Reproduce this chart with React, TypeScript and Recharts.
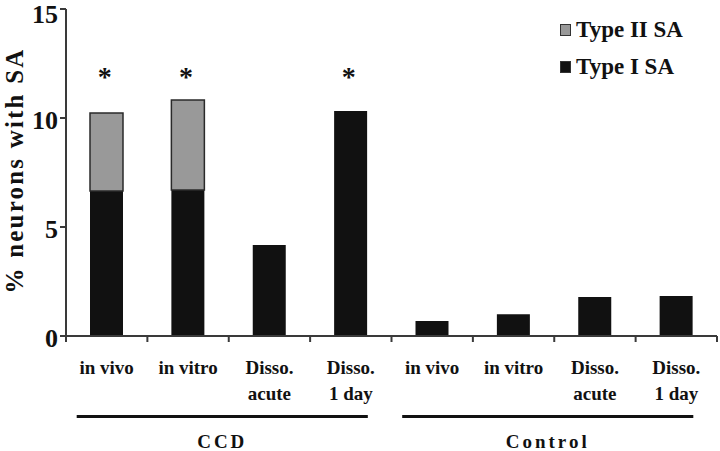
import React from "react";
import { ComposedChart, Bar, Line, XAxis, YAxis } from "recharts";

const line1 = ["in vivo", "in vitro", "Disso.", "Disso.", "in vivo", "in vitro", "Disso.", "Disso."];
const line2 = ["", "", "acute", "1 day", "", "", "acute", "1 day"];
const groupNames = ["CCD", "Control"];
const typeI = [6.65, 6.7, 4.17, 10.32, 0.69, 1.0, 1.79, 1.83];
const typeII = [3.58, 4.13, 0, 0, 0, 0, 0, 0];
const significant = [true, true, false, true, false, false, false, false];
const yTicks = [0, 5, 10, 15];
const legendItems = [
  { label: "Type II SA", fill: "#999999" },
  { label: "Type I SA", fill: "#111111" },
];

const STAR_LEVEL = 12.1;
const FONT = '"Liberation Serif", "Times New Roman", serif';
const AXIS = "#3a3a3a";

const data = line1.map((l, i) => ({
  name: `${l} ${line2[i]} ${i}`,
  typeI: typeI[i],
  typeII: typeII[i] || null,
  star: significant[i] ? STAR_LEVEL : null,
}));

const W = 720;
const H = 451;
const LEFT = 66;
const RIGHT = 3;
const step = (W - LEFT - RIGHT) / line1.length;

function XTick(props: any) {
  const { x, y, index } = props;
  const half = step / 2;
  const items: React.ReactNode[] = [];
  items.push(<line key="t" x1={x - half} x2={x - half} y1={y - 8} y2={y - 2} stroke={AXIS} strokeWidth={2} />);
  if (index === line1.length - 1) {
    items.push(<line key="t2" x1={x + half} x2={x + half} y1={y - 8} y2={y - 2} stroke={AXIS} strokeWidth={2} />);
  }
  items.push(
    <text key="l1" x={x} y={y + 30} textAnchor="middle" fontFamily={FONT} fontWeight="bold" fontSize={19} fill="#111">
      {line1[index]}
    </text>
  );
  if (line2[index]) {
    items.push(
      <text key="l2" x={x} y={y + 56} textAnchor="middle" fontFamily={FONT} fontWeight="bold" fontSize={19} fill="#111">
        {line2[index]}
      </text>
    );
  }
  if (index % 4 === 0) {
    const x1 = x - 30;
    const x2 = x + 3 * step + 17;
    items.push(<line key="g" x1={x1} x2={x2} y1={y + 72.5} y2={y + 72.5} stroke="#111" strokeWidth={3} />);
    items.push(
      <text key="gl" x={(x1 + x2) / 2} y={y + 104} textAnchor="middle" fontFamily={FONT} fontWeight="bold" fontSize={19} letterSpacing={3} fill="#111">
        {groupNames[index / 4]}
      </text>
    );
  }
  return <g>{items}</g>;
}

function YTick(props: any) {
  const { x, y, payload } = props;
  const shift = payload.value === 15 ? 5 : 2;
  return (
    <text x={x} y={y + shift} dy="0.35em" textAnchor="end" fontFamily={FONT} fontWeight="bold" fontSize={26} fill="#111">
      {payload.value}
    </text>
  );
}

function StarDot(props: any) {
  const { cx, cy, value } = props;
  if (value == null || cx == null || cy == null) return null;
  return (
    <text x={cx - 2} y={cy + 14} textAnchor="middle" fontFamily={FONT} fontWeight="bold" fontSize={28} fill="#111">
      *
    </text>
  );
}

function YLabel(props: any) {
  const vb = props.viewBox || { x: 0, y: 9, width: LEFT, height: 327 };
  const x = vb.x + 22.5;
  const y = vb.y + vb.height / 2 - 2;
  return (
    <text
      x={x}
      y={y}
      transform={`rotate(-90 ${x} ${y})`}
      textAnchor="middle"
      fontFamily={FONT}
      fontWeight="bold"
      fontSize={25}
      letterSpacing={2.2}
      fill="#111"
    >
      % neurons with SA
    </text>
  );
}

function LegendBox() {
  return (
    <div style={{ position: "absolute", left: 560, top: 11, fontFamily: FONT, fontWeight: "bold", fontSize: 23, color: "#111" }}>
      {legendItems.map((e) => (
        <div key={e.label} style={{ display: "flex", alignItems: "center", height: 37, whiteSpace: "nowrap" }}>
          <span style={{ display: "inline-block", width: 9, height: 10, background: e.fill, border: "1px solid #333", marginRight: 5 }} />
          {e.label}
        </div>
      ))}
    </div>
  );
}

export default function App() {
  return (
    <div style={{ position: "absolute", left: 0, top: 0, width: W, height: H, background: "#fff" }}>
      <ComposedChart width={W} height={H} data={data} margin={{ top: 9, right: RIGHT, bottom: 0, left: 0 }} barSize={33}>
        <XAxis
          dataKey="name"
          height={115}
          interval={0}
          tickLine={false}
          stroke={AXIS}
          strokeWidth={2}
          tick={<XTick />}
        />
        <YAxis
          width={LEFT}
          domain={[0, 15]}
          ticks={yTicks}
          interval={0}
          stroke={AXIS}
          strokeWidth={2}
          tickSize={6}
          tick={<YTick />}
          label={<YLabel />}
        />
        <Bar dataKey="typeI" stackId="a" fill="#111111" isAnimationActive={false} />
        <Bar dataKey="typeII" stackId="a" fill="#999999" stroke="#2a2a2a" strokeWidth={1.5} isAnimationActive={false} />
        <Line dataKey="star" stroke="none" dot={<StarDot />} activeDot={false} isAnimationActive={false} />
      </ComposedChart>
      <LegendBox />
    </div>
  );
}
